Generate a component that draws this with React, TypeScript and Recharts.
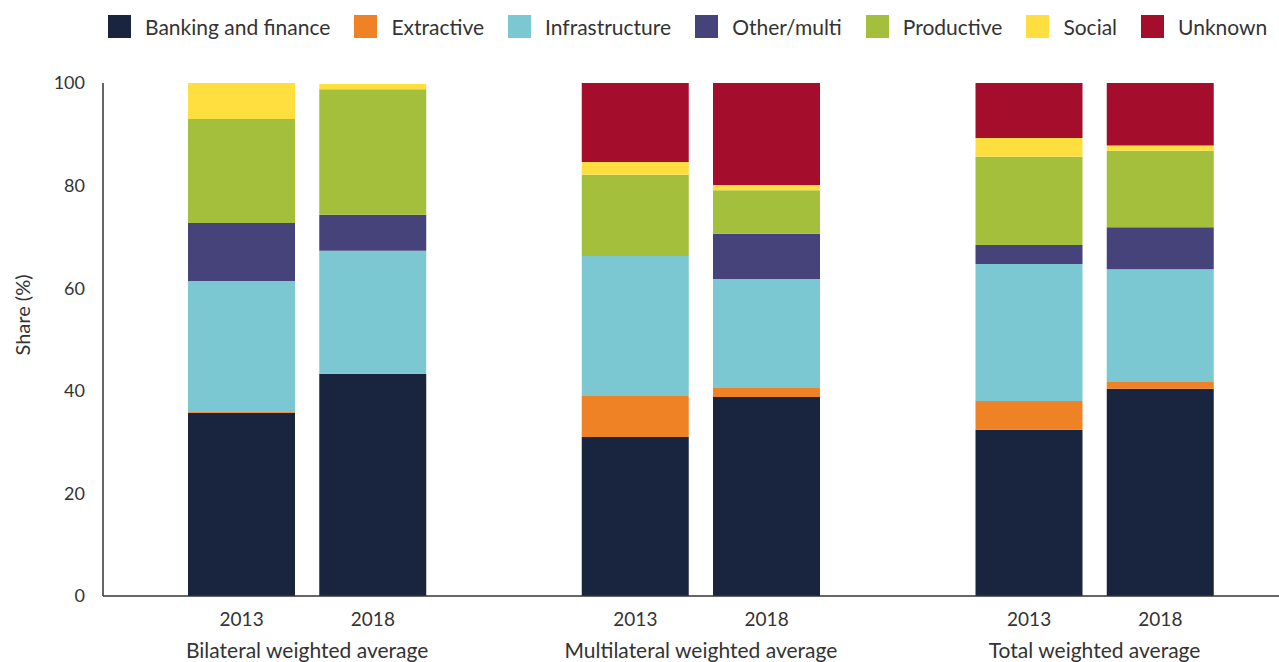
import { BarChart, Bar, XAxis, YAxis, Legend, Label } from 'recharts';

const groups = ['Bilateral weighted average', 'Multilateral weighted average', 'Total weighted average'];
const years = ['2013', '2018'];
const yTicks = [0, 20, 40, 60, 80, 100];

// one value per bar: bilateral 2013, 2018, multilateral 2013, 2018, total 2013, 2018
const banking = [35.7, 43.3, 31.0, 38.8, 32.4, 40.4];
const extractive = [0.3, 0, 8.0, 1.9, 5.6, 1.3];
const infrastructure = [25.4, 24.0, 27.3, 21.1, 26.7, 22.0];
const otherMulti = [11.3, 7.0, 0, 8.8, 3.7, 8.2];
const productive = [20.3, 24.5, 15.8, 8.5, 17.2, 14.9];
const social = [7.0, 1.0, 2.5, 1.0, 3.7, 1.0];
const unknown = [0, 0, 15.4, 19.9, 10.7, 12.2];

const series = [
  { key: 'banking', name: 'Banking and finance', color: '#19253f', values: banking },
  { key: 'extractive', name: 'Extractive', color: '#ef8225', values: extractive },
  { key: 'infrastructure', name: 'Infrastructure', color: '#7bc8d2', values: infrastructure },
  { key: 'other', name: 'Other/multi', color: '#46427a', values: otherMulti },
  { key: 'productive', name: 'Productive', color: '#a4bf3c', values: productive },
  { key: 'social', name: 'Social', color: '#ffdf40', values: social },
  { key: 'unknown', name: 'Unknown', color: '#a50d2c', values: unknown },
];

// rows for the x axis, with an empty slot between the groups
const rows: any[] = [];
groups.forEach((g, gi) => {
  if (gi > 0) rows.push({ id: `gap-${gi}`, year: '', group: '' });
  years.forEach((y, yi) => {
    const row: any = { id: `${gi}-${y}`, year: y, group: yi === 0 ? g : '' };
    series.forEach((s) => {
      row[s.key] = s.values[gi * years.length + yi];
    });
    rows.push(row);
  });
});

const FONT = 'Lato, "Noto Sans", sans-serif';
const TEXT = '#333333';
const BAND = 131; // width of one category slot

function XTick(props: any) {
  const { x, y, payload } = props;
  const row = rows.find((r) => r.id === payload.value);
  if (!row) return null;
  return (
    <g>
      <text x={x} y={y + 14} textAnchor="middle" dominantBaseline="central" fontSize={19} fill={TEXT} fontFamily={FONT}>
        {row.year}
      </text>
      {row.group && (
        <text x={x + BAND / 2} y={y + 45} textAnchor="middle" dominantBaseline="central" fontSize={21} fill={TEXT} fontFamily={FONT}>
          {row.group}
        </text>
      )}
    </g>
  );
}

const renderLegend = () => (
  <div style={{ height: 83, display: 'flex', alignItems: 'flex-start', paddingLeft: 108, paddingTop: 14, boxSizing: 'border-box' }}>
    {series.map((s) => (
      <div key={s.key} style={{ display: 'flex', alignItems: 'center', marginRight: 24 }}>
        <span style={{ width: 23, height: 23, background: s.color, display: 'inline-block', marginRight: 14 }} />
        <span style={{ fontSize: 21, color: TEXT, fontFamily: FONT, whiteSpace: 'nowrap' }}>{s.name}</span>
      </div>
    ))}
  </div>
);

export default function App() {
  return (
    <div style={{ position: 'absolute', left: 0, top: 0, width: 1279, height: 662, background: '#fff' }}>
      <BarChart width={1279} height={662} data={rows} margin={{ top: 0, right: 0, bottom: 0, left: 0 }}>
        <Legend
          verticalAlign="top"
          align="left"
          content={renderLegend}
          wrapperStyle={{ left: 0, top: 0, width: 1279, height: 83 }}
        />
        <XAxis
          dataKey="id"
          height={66}
          interval={0}
          tickLine={false}
          axisLine={{ stroke: TEXT, strokeWidth: 1.5 }}
          padding={{ left: 73, right: 53 }}
          tick={<XTick />}
        />
        <YAxis
          width={103}
          domain={[0, 100]}
          ticks={yTicks}
          tickLine={false}
          tickMargin={12}
          axisLine={{ stroke: TEXT, strokeWidth: 1.5 }}
          tick={{ fontSize: 18, fill: TEXT, fontFamily: FONT }}
        >
          <Label
            content={() => (
              <text
                x={22}
                y={315}
                transform="rotate(-90 22 315)"
                textAnchor="middle"
                dominantBaseline="central"
                fontSize={20}
                fill={TEXT}
                fontFamily={FONT}
              >
                Share (%)
              </text>
            )}
          />
        </YAxis>
        {series.map((s) => (
          <Bar key={s.key} dataKey={s.key} name={s.name} stackId="a" fill={s.color} barSize={107} isAnimationActive={false} />
        ))}
      </BarChart>
    </div>
  );
}
